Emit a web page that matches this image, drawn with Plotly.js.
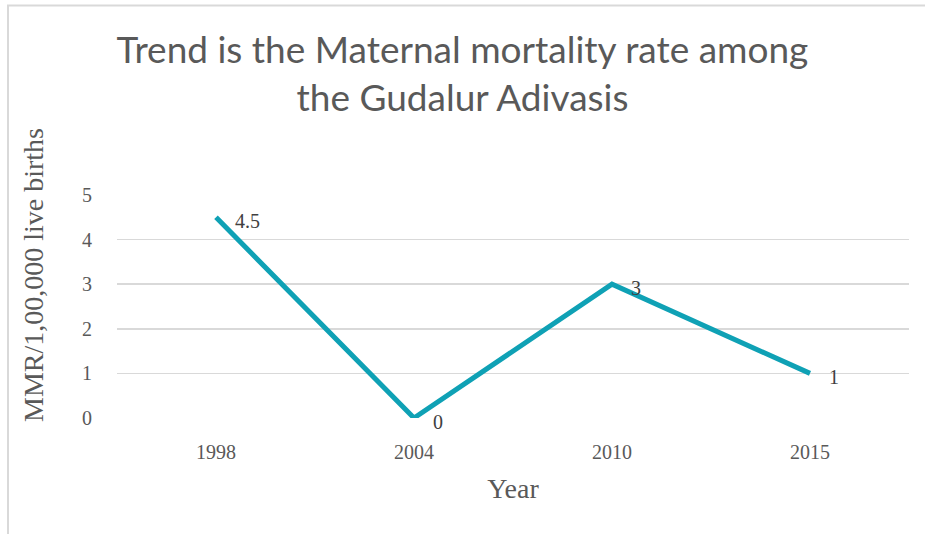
<!DOCTYPE html>
<html>
<head>
<meta charset="utf-8">
<script src="https://cdn.plot.ly/plotly-3.0.1.min.js"></script>
<style>
html,body{margin:0;padding:0;background:#fff;}
#chart{width:925px;height:534px;}
</style>
</head>
<body>
<div id="chart"></div>
<script>
const years = ["1998", "2004", "2010", "2015"];
const mmr = [4.5, 0, 3, 1];
const labels = ["4.5", "0", "3", "1"];
const yTicks = [0, 1, 2, 3, 4, 5];

const W = 925, H = 534;
const m = {l: 117, r: 16, t: 195, b: 116};
const pw = W - m.l - m.r, ph = H - m.t - m.b;
const px = x => (x - m.l) / pw;
const py = y => (H - m.b - y) / ph;

const trace = {
  x: years,
  y: mmr,
  type: 'scatter',
  mode: 'lines',
  line: {color: '#0FA1B5', width: 5},
  cliponaxis: false,
  hoverinfo: 'none'
};

const annotations = years.map((yr, i) => ({
  x: i, y: mmr[i], xref: 'x', yref: 'y',
  text: labels[i], showarrow: false,
  xanchor: 'left', yanchor: 'middle',
  xshift: 17, yshift: -4,
  font: {family: 'Liberation Serif, serif', size: 20, color: '#404040'}
}));

annotations.push({
  xref: 'paper', yref: 'paper',
  x: px(33), y: py(275),
  xanchor: 'center', yanchor: 'middle',
  text: 'MMR/1,00,000 live births', showarrow: false, textangle: -90,
  font: {family: 'Liberation Serif, serif', size: 28, color: '#595959'}
});

const layout = {
  width: W, height: H,
  margin: m,
  paper_bgcolor: '#ffffff',
  plot_bgcolor: '#ffffff',
  showlegend: false,
  title: {
    text: 'Trend is the Maternal mortality rate among<br>the Gudalur Adivasis',
    font: {family: 'Lato, Open Sans, sans-serif', size: 37, color: '#595959'},
    x: 0.5, xref: 'container', xanchor: 'center',
    y: 1 - 63 / H, yref: 'container', yanchor: 'top'
  },
  annotations: annotations,
  xaxis: {
    type: 'category',
    range: [-0.5, 3.5],
    showgrid: false,
    zeroline: false,
    showline: false,
    ticks: 'outside', ticklen: 16, tickcolor: 'rgba(0,0,0,0)',
    tickfont: {family: 'Liberation Serif, serif', size: 20, color: '#595959'},
    title: {text: 'Year', font: {family: 'Liberation Serif, serif', size: 28, color: '#595959'}, standoff: 16}
  },
  yaxis: {
    range: [0, 5],
    tickvals: yTicks,
    ticktext: yTicks.map(String),
    showgrid: true, gridcolor: '#d9d9d9', gridwidth: 1.5,
    zeroline: false,
    showline: false,
    ticks: 'outside', ticklen: 20, tickcolor: 'rgba(0,0,0,0)',
    tickfont: {family: 'Liberation Serif, serif', size: 20, color: '#595959'}
  },
  shapes: [
    {type: 'line', xref: 'paper', yref: 'paper', x0: px(8), x1: px(8), y0: py(5.5), y1: py(H + 5), line: {color: '#d9d9d9', width: 2}},
    {type: 'line', xref: 'paper', yref: 'paper', x0: px(7), x1: px(W + 5), y0: py(5.5), y1: py(5.5), line: {color: '#d9d9d9', width: 2}}
  ]
};

Plotly.newPlot('chart', [trace], layout, {displayModeBar: false, staticPlot: true});
</script>
</body>
</html>
